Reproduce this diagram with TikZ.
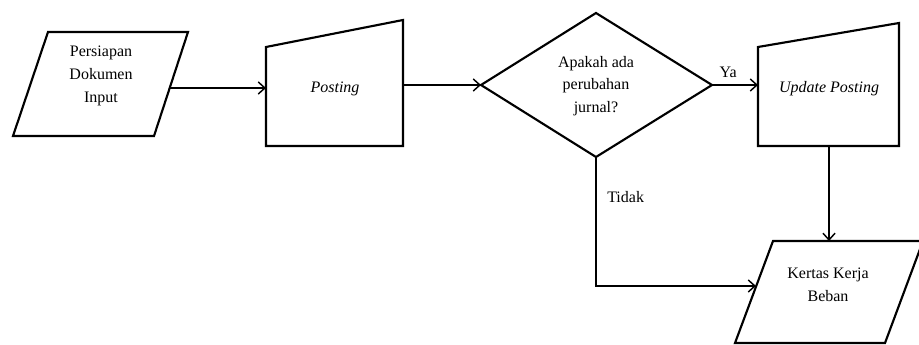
\documentclass[tikz,border=0pt]{standalone}
\usepackage{fontspec}
\setmainfont{Liberation Serif}
\usetikzlibrary{arrows.meta}

\begin{document}
\begin{tikzpicture}[x=0.75pt,y=-0.75pt,
  outline/.style={line width=1.6pt, line join=miter},
  flow/.style={line width=1.1pt, -{Straight Barb[length=5pt,width=9pt,line width=1.1pt]}},
  txt/.style={font=\fontsize{12}{17}\selectfont, align=center, inner sep=0pt}]
\useasboundingbox (0,0) rectangle (919,345);
\begin{scope}
\clip (0,0) rectangle (919,345);

% input document (parallelogram)
\draw[outline] (48,32) -- (188,32) -- (154,136) -- (13,136) -- cycle;
\node[txt] (inp) at (101,76) {Persiapan\\Dokumen\\Input};
\coordinate (inpR) at (170,88);

% manual operation: Posting
\draw[outline] (266,47) -- (403,20) -- (403,146) -- (266,146) -- cycle;
\node[txt, font=\fontsize{12}{17}\selectfont\itshape] (post) at (335,89) {Posting};
\coordinate (postL) at (266,88);
\coordinate (postR) at (403,85);

% decision
\draw[outline] (481,85) -- (596,13) -- (712,85) -- (596,157) -- cycle;
\node[txt] (dec) at (596,86) {Apakah ada\\perubahan\\jurnal?};
\coordinate (decL) at (481,85);
\coordinate (decR) at (712,85);
\coordinate (decB) at (596,157);

% manual operation: Update Posting
\draw[outline] (758,47) -- (899,23) -- (899,146) -- (758,146) -- cycle;
\node[txt, font=\fontsize{12}{17}\selectfont\itshape] (upd) at (829,89) {Update Posting};
\coordinate (updL) at (758,85);
\coordinate (updB) at (829,146);

% output document (parallelogram)
\draw[outline] (773,241) -- (923,241) -- (885,343) -- (735,343) -- cycle;
\node[txt] (out) at (828,285) {Kertas Kerja\\Beban};
\coordinate (outT) at (829,241);
\coordinate (outL) at (756,286);
\coordinate (bend) at (596,286);

% connectors
\draw[flow] (inpR) -- (postL);
\draw[flow] (postR) -- (decL);
\draw[flow] (decR) -- node[txt, above=5pt, pos=0.35] (ya) {Ya} (updL);
\draw[flow] (updB) -- (outT);
\draw[flow] (decB) -- (bend) -- (outL);
\node[txt, anchor=west] (tidak) at (607,197) {Tidak};
\end{scope}
\end{tikzpicture}
\end{document}
